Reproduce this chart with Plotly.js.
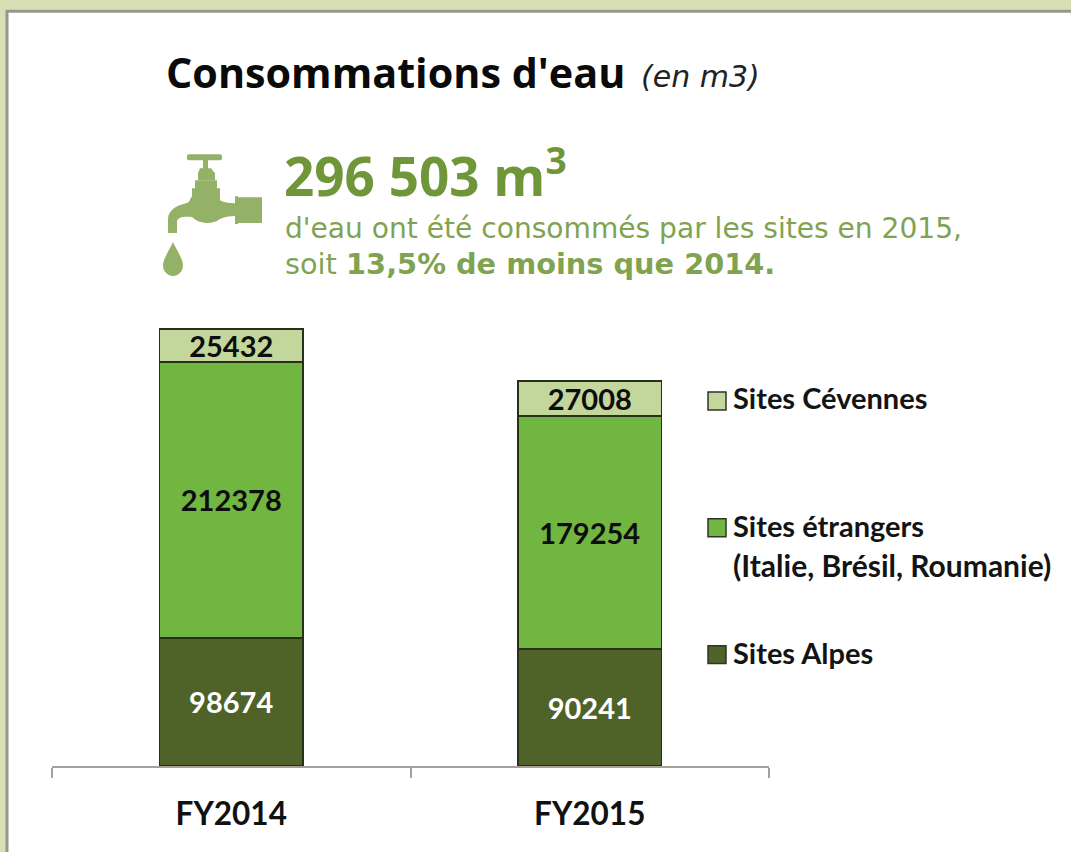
<!DOCTYPE html>
<html><head><meta charset="utf-8">
<script src="https://cdn.plot.ly/plotly-3.0.1.min.js"></script>
<style>html,body{margin:0;padding:0;background:#d6e0b4;overflow:hidden}</style>
</head><body><div id="chart" style="width:1071px;height:852px"></div>
<script>
const categories = ['FY2014','FY2015'];
const sitesAlpes = [98674, 90241];
const sitesEtrangers = [212378, 179254];
const sitesCevennes = [25432, 27008];
const seriesNames = ['Sites Alpes','Sites étrangers','Sites Cévennes'];
const seriesColors = ['#4f6228','#72b642','#c3d69b'];
const labelColors = ['#ffffff','#0d0d0d','#0d0d0d'];
const W=1071,H=852,L=52,R=769,T=320,B=766.5;
const px=x=>(x-L)/(R-L), py=y=>(B-y)/(B-T);
const green='#70963a', bodyGreen='#7fa350', faucet='#93b268';
const sans='"Open Sans", sans-serif', lato='Lato, sans-serif', dejavu='"DejaVu Sans", sans-serif';

const traces=[sitesAlpes,sitesEtrangers,sitesCevennes].map((v,i)=>({
  type:'bar',x:categories,y:v,name:seriesNames[i],width:0.4,
  marker:{color:seriesColors[i],line:{color:'#26301a',width:1.5}},
  text:v.map(String),textposition:'inside',insidetextanchor:'middle',textangle:0,constraintext:'none',
  textfont:{family:lato,size:29,weight:700,color:labelColors[i]},hoverinfo:'x+y+name'
}));

function note(text,x,y,size,color,family){
  return {text,xref:'paper',yref:'paper',x:px(x),y:py(y),xanchor:'left',yanchor:'middle',
    showarrow:false,align:'left',font:{size,color,family}};
}
const annotations=[
  note('<b>Consommations d\'eau</b>',164,72,41.3,'#0a0a0a',sans),
  note('<i>(en m3)</i>',639,76,30,'#222222',dejavu),
  note('<b>296 503 m<sup>3</sup></b>',282,173,53,green,sans),
  note('d\'eau ont été consommés par les sites en 2015,',283,228,28.1,bodyGreen,dejavu),
  note('soit <b>13,5% de moins que 2014.</b>',283,264,28.8,bodyGreen,dejavu),
  note('<b>Sites Cévennes</b>',731,398,29,'#141414',lato),
  note('<b>Sites étrangers</b>',731,526,29,'#141414',lato),
  note('<b>(Italie, Brésil, Roumanie)</b>',731,565,30,'#141414',lato),
  note('<b>Sites Alpes</b>',731,653,29,'#141414',lato)
];
const swatch=(y,c)=>({type:'rect',xref:'paper',yref:'paper',layer:'above',x0:px(708),x1:px(726),y0:py(y-9),y1:py(y+9),
  fillcolor:c,line:{color:'#2f3526',width:1.5}});
const shapes=[
  {type:'rect',xref:'paper',yref:'paper',layer:'below',x0:px(7),x1:px(1080),y0:py(11),y1:py(860),
   fillcolor:'#ffffff',line:{color:'#97978f',width:3}},
  swatch(401,seriesColors[2]),swatch(528,seriesColors[1]),swatch(655,seriesColors[0])
];
const svg=`<svg xmlns="http://www.w3.org/2000/svg" width="160" height="160" viewBox="0 0 160 160" fill="${faucet}">
<rect x="47" y="24" width="35" height="6" rx="2"/><rect x="63" y="29" width="5" height="10"/>
<path d="M60 38h11l4 5v7h-17v-7z"/><path d="M55 50h22v8h3v10h-28v-10h3z"/>
<path d="M52 66h28v4c3 2 8 3 15 3v13c-6 0-11 1-15 3c-4 3-8 4-13 4c-6 0-11-2-15-6c-8-1-14 0-15 4v12h-9v-14c0-9 9-14 18-16c3-1 4-2 4-4z"/>
<path d="M95 66h3v1h24v26h-24v1h-3z"/>
<path d="M33 112c3 7 10 17 10 23c0 7-5 11-10 11s-10-4-10-11c0-6 7-16 10-23z"/></svg>`;
const images=[{source:'data:image/svg+xml;charset=utf-8,'+encodeURIComponent(svg),xref:'paper',yref:'paper',
  x:px(140),y:py(130),sizex:160/(R-L),sizey:160/(B-T),xanchor:'left',yanchor:'top',sizing:'stretch',layer:'above'}];

Plotly.newPlot('chart',traces,{
  width:W,height:H,barmode:'stack',showlegend:false,
  margin:{l:L,r:W-R,t:T,b:H-B,pad:0},
  paper_bgcolor:'#d6e0b4',plot_bgcolor:'rgba(0,0,0,0)',
  xaxis:{type:'category',range:[-0.5,1.5],tickson:'boundaries',ticks:'outside',ticklen:10,tickwidth:1.5,tickcolor:'#a89f98',
    showline:true,linecolor:'#a89f98',linewidth:1.5,showgrid:false,ticklabelstandoff:19,
    tickfont:{family:lato,size:31.5,weight:700,color:'#111111'}},
  yaxis:{range:[0,343460],visible:false,showgrid:false,zeroline:false},
  annotations,shapes,images
},{displayModeBar:false,responsive:false});
</script></body></html>
